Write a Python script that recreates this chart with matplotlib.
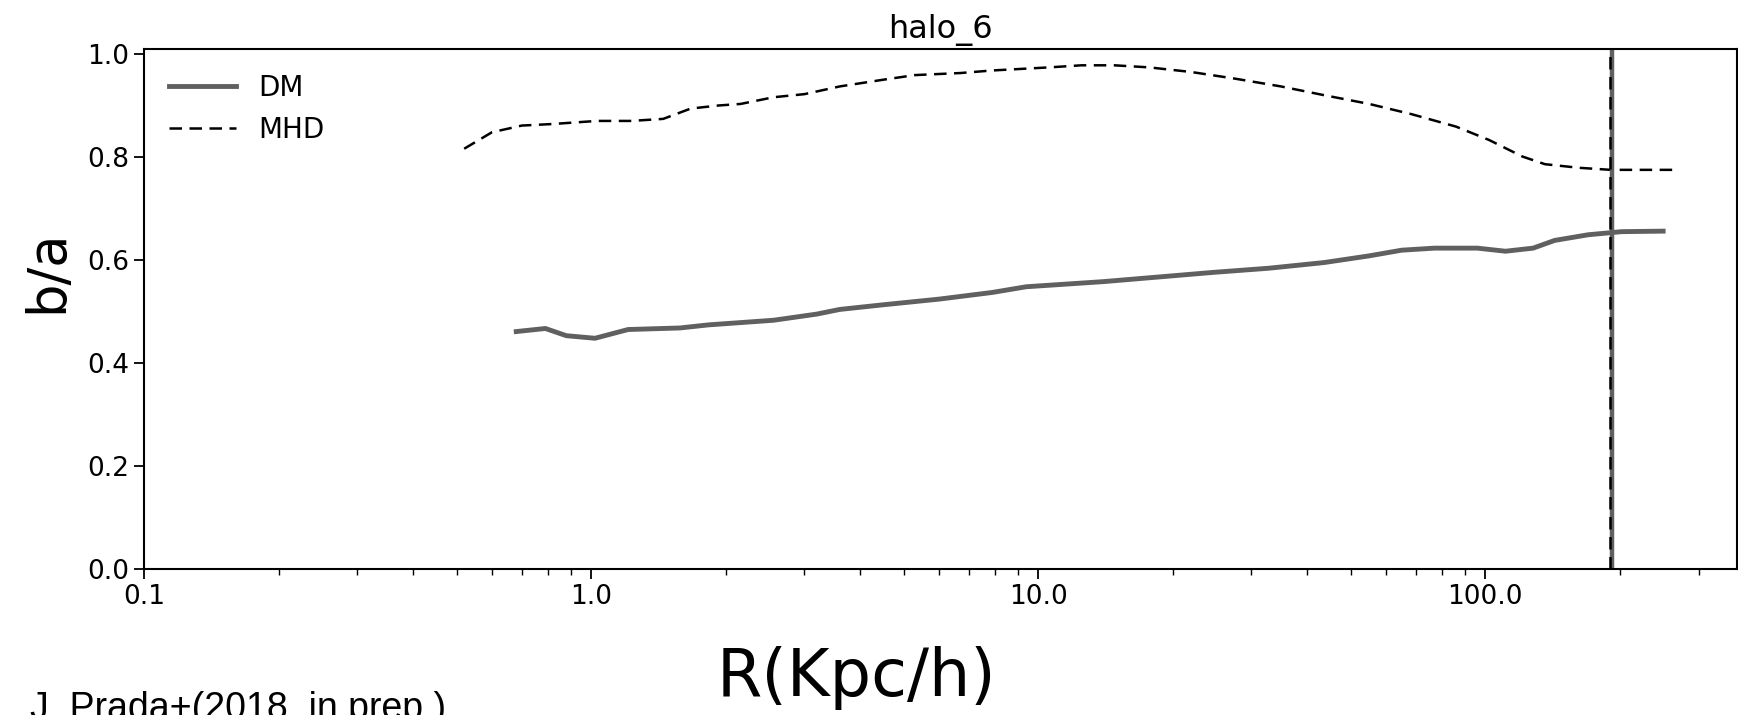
import numpy as np
import matplotlib
matplotlib.use("Agg")
import matplotlib.pyplot as plt
from matplotlib.ticker import FixedLocator, FuncFormatter

# -------------------------
# Datos
# -------------------------
r_dm = [0.68, 0.79, 0.88, 1.02, 1.21, 1.58, 1.83, 2.56, 3.2, 3.6, 4.5, 6.0, 7.9,
        9.4, 14.0, 18.6, 24.7, 32.8, 43.6, 55.0, 65.0, 77.0, 96.0, 111.0, 128.0,
        143.0, 170.0, 202.0, 250.0]
ba_dm = [0.461, 0.467, 0.453, 0.448, 0.465, 0.468, 0.474, 0.483, 0.495, 0.504,
         0.513, 0.524, 0.537, 0.548, 0.558, 0.567, 0.576, 0.584, 0.595, 0.608,
         0.619, 0.623, 0.623, 0.617, 0.623, 0.638, 0.649, 0.655, 0.656]

r_mhd = [0.52, 0.60, 0.70, 0.82, 1.03, 1.23, 1.45, 1.67, 1.93, 2.16, 2.56, 3.0,
         3.6, 4.5, 5.3, 6.7, 7.9, 10.6, 12.5, 14.8, 17.7, 22.0, 27.6, 34.9, 43.6,
         55.0, 68.5, 86.0, 102.0, 121.0, 136.0, 162.0, 191.0, 262.0]
ba_mhd = [0.816, 0.848, 0.861, 0.864, 0.870, 0.870, 0.874, 0.894, 0.900, 0.903,
          0.916, 0.922, 0.937, 0.950, 0.959, 0.963, 0.968, 0.974, 0.978, 0.978,
          0.974, 0.965, 0.952, 0.937, 0.920, 0.903, 0.883, 0.859, 0.833, 0.801,
          0.786, 0.779, 0.775, 0.775]

# radios viriales (DM y MHD)
rvir_dm = 192.5
rvir_mhd = 190.5
xticks = [0.1, 1.0, 10.0, 100.0]

# -------------------------
# Figura
# -------------------------
fig = plt.figure(figsize=(17.38, 7.15), dpi=100)
ax = fig.add_axes([0.0829, 0.2042, 0.9166, 0.7273])

ax.plot(r_dm, ba_dm, color="#606060", lw=3.5, label="DM")
ax.plot(r_mhd, ba_mhd, color="black", lw=1.8, ls="--", dashes=(5, 3), label="MHD")

ax.axvline(rvir_dm, color="#606060", lw=3.2)
ax.axvline(rvir_mhd, color="black", lw=1.8, ls="--", dashes=(5, 3))

ax.set_xscale("log")
ax.set_xlim(0.1, 366)
ax.set_ylim(0.0, 1.0097)
ax.xaxis.set_major_locator(FixedLocator(xticks))
ax.xaxis.set_major_formatter(FuncFormatter(lambda v, p: f"{v:.1f}"))

ax.tick_params(axis="both", which="major", labelsize=19, length=7, width=1.3)
ax.tick_params(axis="x", which="minor", length=4, width=1.0)
for s in ax.spines.values():
    s.set_linewidth(1.5)

ax.set_yticks([0.0, 0.2, 0.4, 0.6, 0.8, 1.0])
ax.set_title("halo_6", fontsize=23, pad=8)

ax.set_xlabel("R(Kpc/h)", fontsize=47)
ax.xaxis.label.set_va("baseline")
ax.xaxis.set_label_coords(0.447, -0.245)

ax.set_ylabel("b/a", fontsize=38)
ax.yaxis.label.set_va("baseline")
ax.yaxis.set_label_coords(-0.0515, 0.573)

ax.legend(loc="upper left", frameon=False, fontsize=20, handlelength=2.4,
          labelspacing=0.5, borderaxespad=0.5)

# texto de pie, cortado por el borde inferior como en la original
fig.text(0.017, 0.0336, "J. Prada+(2018, in prep.)", fontsize=27,
         family="Liberation Sans", va="top", ha="left")

fig.savefig("out.png", dpi=100)
